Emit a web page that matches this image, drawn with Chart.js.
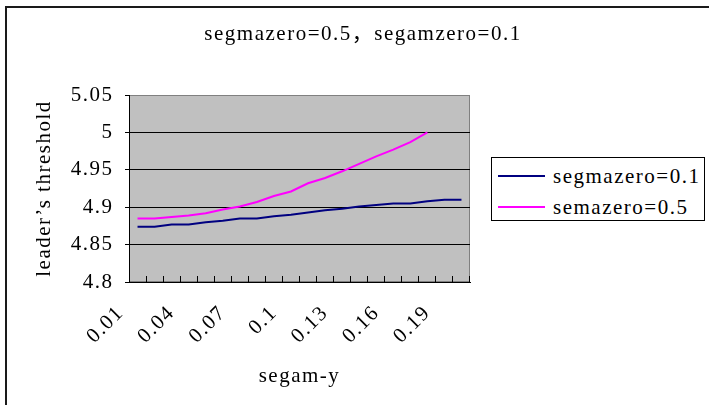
<!DOCTYPE html>
<html>
<head>
<meta charset="utf-8">
<script src="https://cdn.jsdelivr.net/npm/chart.js@4.4.1/dist/chart.umd.min.js"></script>
<style>
  html, body { margin: 0; padding: 0; background: #fff; }
  #wrap { position: relative; width: 709px; height: 405px; overflow: hidden; }
  #frame { position: absolute; left: 5px; top: 6px; width: 800px; height: 500px; border: 2px solid #1a1a1a; }
  #chart { position: absolute; left: 0; top: 0; }
  #legend {
    position: absolute; left: 491px; top: 157px; width: 212px; height: 62px;
    border: 1px solid #000; background: #fff;
    font: 21px "Liberation Serif", "Noto Sans CJK SC", serif; letter-spacing: 1.5px; color: #000;
  }
  .row { position: absolute; left: 0; right: 0; height: 25px; line-height: 25px; white-space: nowrap; }
  .swatch { position: absolute; left: 6px; top: 11.5px; width: 47px; height: 2px; }
  .lbl { position: absolute; left: 61px; top: 0; }
</style>
</head>
<body>
<div id="wrap">
  <div id="frame"></div>
  <canvas id="chart" width="709" height="405"></canvas>
  <div id="legend"></div>
</div>
<script>
/* data */
const categories = [
  "0.01","0.02","0.03","0.04","0.05","0.06","0.07","0.08","0.09","0.1",
  "0.11","0.12","0.13","0.14","0.15","0.16","0.17","0.18","0.19","0.2",
];
const seriesNames = ["segmazero=0.1", "semazero=0.5"];
const navyValues = [
  4.874, 4.874, 4.877, 4.877, 4.880, 4.882, 4.885, 4.885, 4.888, 4.890,
  4.893, 4.896, 4.898, 4.901, 4.903, 4.905, 4.905, 4.908, 4.910, 4.910,
];
const magentaValues = [
  4.885, 4.885, 4.887, 4.889, 4.892, 4.897, 4.901, 4.907, 4.915, 4.921,
  4.932, 4.939, 4.948, 4.958, 4.968, 4.977, 4.987, 5.000,
];
const yTicks = [4.8, 4.85, 4.9, 4.95, 5, 5.05];
const titleText = "segmazero=0.5，segamzero=0.1";
const xTitle = "segam-y";
const yTitle = "leader’s threshold";

const COLORS = ["#000080", "#ff00ff"];
const FONT = "\"Liberation Serif\", \"Noto Sans CJK SC\", serif";
const SPACING = "1.5px";

Chart.defaults.font.family = FONT;
Chart.defaults.font.size = 21;
Chart.defaults.color = "#000";

/* wide letter pitch, like the CJK system font of the original */
const spacing = {
  id: "spacing",
  beforeUpdate(chart) { chart.ctx.letterSpacing = SPACING; },
  beforeDraw(chart) { chart.ctx.letterSpacing = SPACING; },
};

/* gray plot area with a gray frame, like the office chart */
const plotBg = {
  id: "plotBg",
  beforeDraw(chart) {
    const { ctx, chartArea: a } = chart;
    ctx.save();
    ctx.fillStyle = "#c0c0c0";
    ctx.fillRect(a.left, a.top, a.width, a.height);
    ctx.strokeStyle = "#808080";
    ctx.lineWidth = 1;
    ctx.strokeRect(a.left + 0.5, a.top + 0.5, a.width - 1, a.height - 1);
    ctx.restore();
  },
};

const datasets = [navyValues, magentaValues].map((vals, i) => ({
  label: seriesNames[i],
  data: vals,
  borderColor: COLORS[i],
  backgroundColor: COLORS[i],
  borderWidth: 2,
  pointRadius: 0,
  tension: 0,
  fill: false,
}));

new Chart(document.getElementById("chart"), {
  type: "line",
  data: { labels: categories, datasets },
  plugins: [spacing, plotBg],
  options: {
    responsive: false,
    animation: false,
    layout: { padding: { left: 17, right: 0, top: 0, bottom: 0 } },
    plugins: {
      legend: { display: false },
      tooltip: { enabled: false },
      title: {
        display: true,
        text: titleText,
        color: "#000",
        font: { size: 21, weight: "normal" },
        padding: { top: 21.4, bottom: 48.4 },
      },
    },
    scales: {
      x: {
        type: "category",
        offset: true,
        grid: {
          offset: true,
          drawOnChartArea: false,
          drawTicks: true,
          tickLength: -6,
          color: "#000",
        },
        border: { color: "#000", width: 1 },
        ticks: {
          autoSkip: false,
          minRotation: 45,
          maxRotation: 45,
          labelOffset: -17,
          padding: 24.6,
          callback: (v, i) => (i % 3 === 0 ? categories[i] : ""),
        },
        title: {
          display: true,
          text: xTitle,
          padding: { top: 0, bottom: 16.4 },
        },
        afterFit: s => { s.height = 123; },
      },
      y: {
        position: "left",
        min: yTicks[0],
        max: yTicks[yTicks.length - 1],
        afterBuildTicks: s => { s.ticks = yTicks.map(v => ({ value: v })); },
        grid: {
          color: c => (c.tick && c.tick.value === yTicks[yTicks.length - 1] ? "rgba(0,0,0,0)" : "#000"),
          tickColor: "#000",
          tickLength: 4,
          lineWidth: 1,
        },
        border: { color: "#000", width: 1 },
        ticks: { padding: 11.5, callback: v => String(v) },
        title: {
          display: true,
          text: yTitle,
          padding: { top: 14.4, bottom: 0 },
        },
        afterFit: s => { s.width = 112; },
      },
      yR: {
        position: "right",
        display: true,
        grid: { display: false },
        border: { display: false },
        ticks: { display: false },
        afterFit: s => { s.width = 239; },
      },
    },
  },
});

/* legend box */
const legend = document.getElementById("legend");
seriesNames.forEach((name, i) => {
  const row = document.createElement("div");
  row.className = "row";
  row.style.top = (5.5 + i * 31) + "px";
  row.innerHTML = '<span class="swatch" style="background:' + COLORS[i] + '"></span>' +
    '<span class="lbl">' + name + "</span>";
  legend.appendChild(row);
});
</script>
</body>
</html>
